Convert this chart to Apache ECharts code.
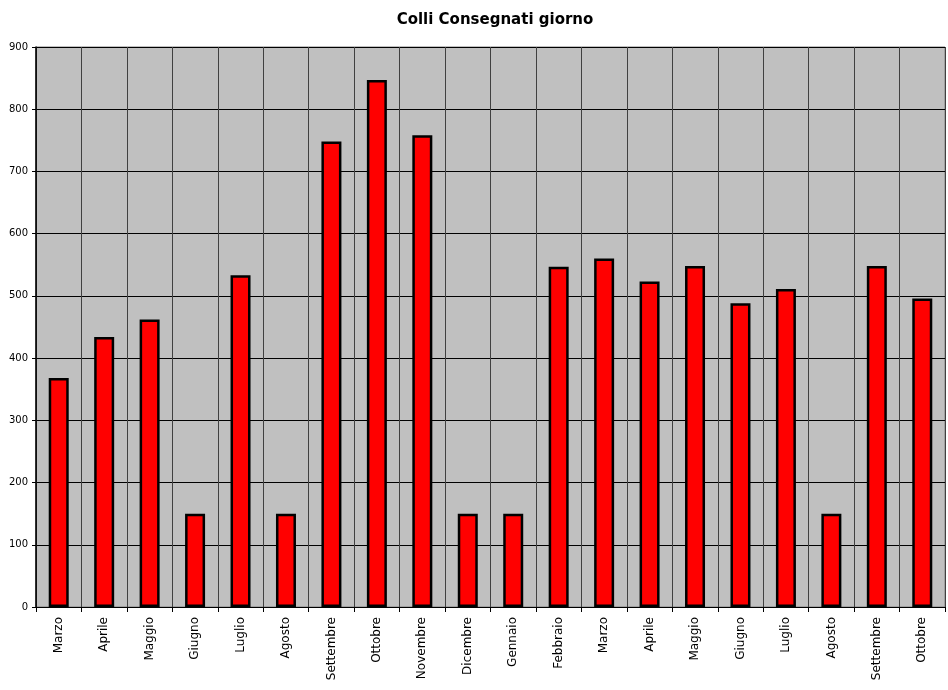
<!DOCTYPE html>
<html><head><meta charset="utf-8">
<script src="https://cdn.jsdelivr.net/npm/echarts@6/dist/echarts.min.js"></script>
<style>html,body{margin:0;padding:0;background:#fff}#c{width:948px;height:690px}</style>
</head><body><div id="c"></div>
<script>
const categories = ['Marzo','Aprile','Maggio','Giugno','Luglio','Agosto','Settembre','Ottobre','Novembre','Dicembre','Gennaio','Febbraio','Marzo','Aprile','Maggio','Giugno','Luglio','Agosto','Settembre','Ottobre'];
const values = [368, 434, 462, 150, 533, 150, 748, 847, 758, 150, 150, 547, 560, 523, 548, 488, 511, 150, 548, 496];
const yTicks = {min: 0, max: 900, interval: 100};
const titleText = 'Colli Consegnati giorno';

const chart = echarts.init(document.getElementById('c'));
chart.setOption({
  animation: false,
  title: {
    text: titleText, left: 490, top: 8, textAlign: 'center',
    textStyle: {fontFamily: 'DejaVu Sans', fontWeight: 'bold', fontSize: 15, color: '#000'}
  },
  grid: {left: 36, right: 3, top: 47, bottom: 83, show: true, backgroundColor: '#C0C0C0', borderColor: '#808080', borderWidth: 1},
  xAxis: {
    type: 'category', data: categories,
    axisLine: {lineStyle: {color: '#000', width: 1}},
    axisTick: {show: true, alignWithLabel: false, length: 5, lineStyle: {color: '#000'}},
    axisLabel: {rotate: 90, interval: 0, fontFamily: 'DejaVu Sans', fontSize: 12, color: '#000', margin: 10},
    splitLine: {show: true, interval: 0, lineStyle: {color: '#404040', width: 1}}
  },
  yAxis: {
    type: 'value', min: yTicks.min, max: yTicks.max, interval: yTicks.interval,
    axisLine: {show: true, lineStyle: {color: '#000', width: 1.5}},
    axisTick: {show: true, length: 4, lineStyle: {color: '#000'}},
    axisLabel: {fontFamily: 'DejaVu Sans', fontSize: 10, color: '#000', margin: 8},
    splitLine: {show: true, lineStyle: {color: '#000', width: 1}}
  },
  series: [{
    type: 'bar', data: values, barWidth: '44%',
    itemStyle: {color: '#FF0000', borderColor: '#000', borderWidth: 2.5}
  }]
});
</script>
</body></html>
